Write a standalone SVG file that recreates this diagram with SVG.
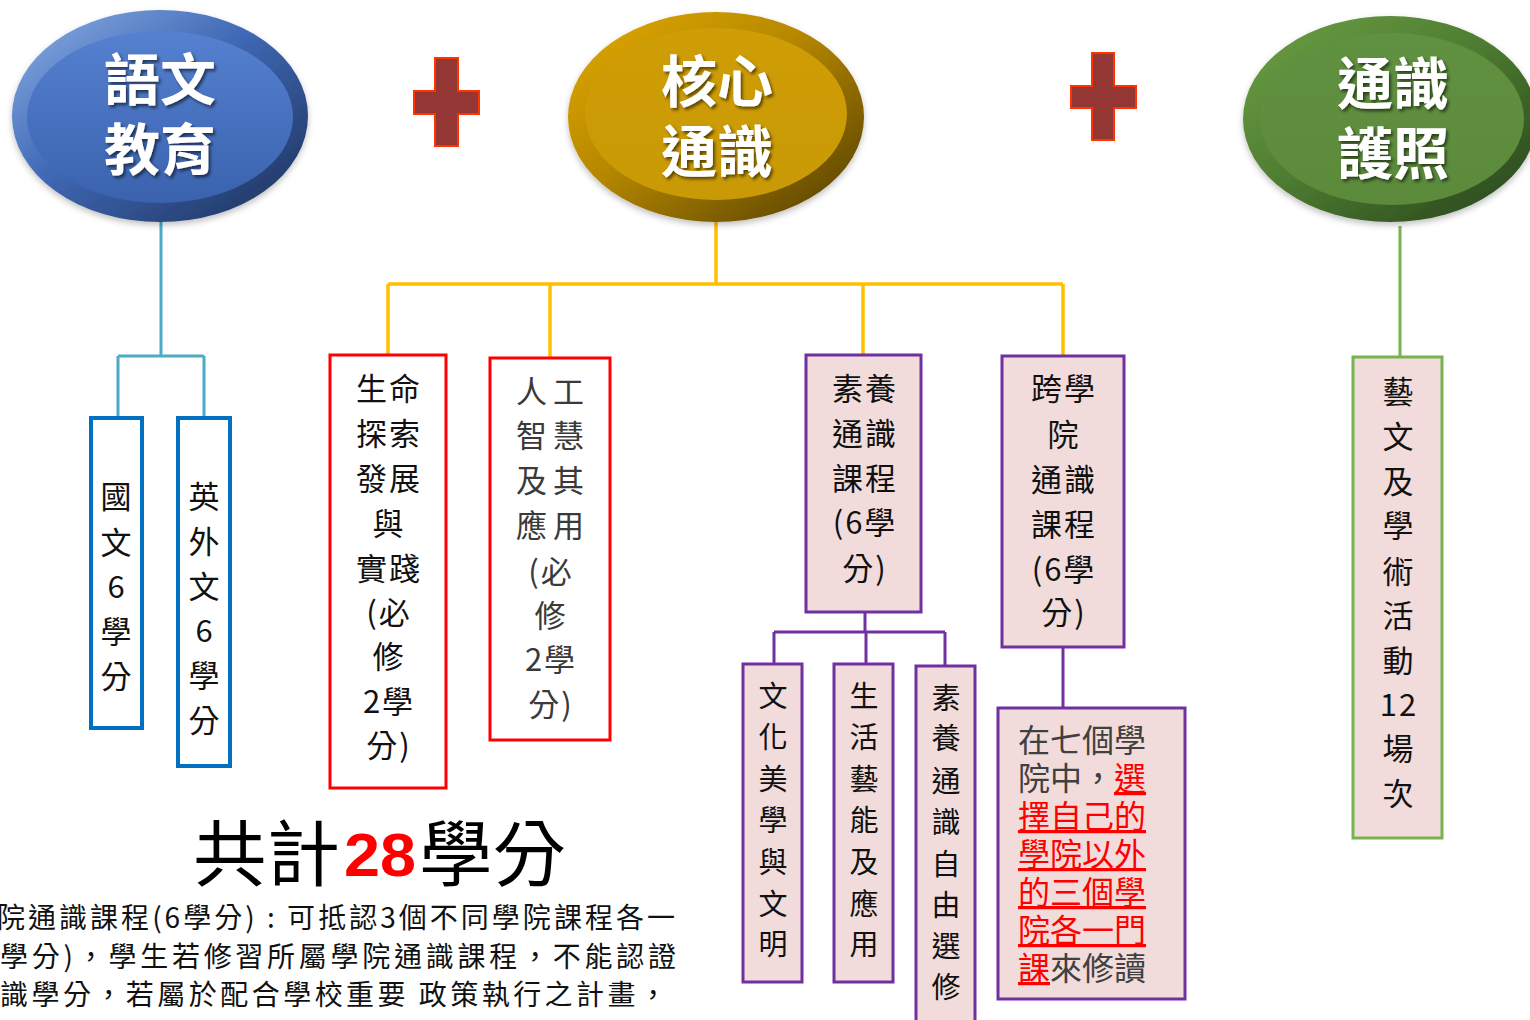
<svg xmlns="http://www.w3.org/2000/svg" width="1530" height="1020" viewBox="0 0 1530 1020">
<defs>
<linearGradient id="gBlue" x1="0" y1="0" x2="1" y2="1">
<stop offset="0" stop-color="#8DB0E6"/><stop offset="0.45" stop-color="#3F68B5"/><stop offset="1" stop-color="#1B2F57"/>
</linearGradient>
<linearGradient id="gBlueIn" x1="0" y1="0" x2="0" y2="1">
<stop offset="0" stop-color="#5581D0"/><stop offset="1" stop-color="#3A62AE"/>
</linearGradient>
<linearGradient id="gGold" x1="0" y1="0" x2="1" y2="1">
<stop offset="0" stop-color="#E2AA00"/><stop offset="0.45" stop-color="#B58700"/><stop offset="1" stop-color="#4F3B06"/>
</linearGradient>
<linearGradient id="gGoldIn" x1="0" y1="0" x2="0" y2="1">
<stop offset="0" stop-color="#CF9D05"/><stop offset="1" stop-color="#C99A06"/>
</linearGradient>
<linearGradient id="gGreen" x1="0" y1="0" x2="1" y2="1">
<stop offset="0" stop-color="#6EA046"/><stop offset="0.45" stop-color="#4F7E31"/><stop offset="1" stop-color="#25401A"/>
</linearGradient>
<linearGradient id="gGreenIn" x1="0" y1="0" x2="0" y2="1">
<stop offset="0" stop-color="#609140"/><stop offset="1" stop-color="#5B8A3B"/>
</linearGradient>
<filter id="sh" x="-20%" y="-20%" width="140%" height="140%">
<feDropShadow dx="2" dy="2.5" stdDeviation="1.5" flood-color="#000" flood-opacity="0.55"/>
</filter>
<filter id="esh" x="-10%" y="-10%" width="120%" height="125%">
<feDropShadow dx="0" dy="3" stdDeviation="3" flood-color="#000" flood-opacity="0.25"/>
</filter>
</defs>
<style>
.et{font-family:"Noto Sans CJK TC","Noto Sans CJK SC",sans-serif;font-size:56px;font-weight:bold;fill:#fff;text-anchor:middle}
.bt{font-family:"Noto Sans CJK TC","Noto Sans CJK SC",sans-serif;font-size:31px;fill:#111;text-anchor:middle;letter-spacing:2px}
.st{font-family:"Noto Sans CJK TC","Noto Sans CJK SC",sans-serif;font-size:29px;fill:#111;text-anchor:middle}
.gray{fill:#3a3a3a}
.pt{font-family:"Noto Sans CJK TC","Noto Sans CJK SC",sans-serif;font-size:32px;fill:#404040}
.red{fill:#FF0000}
.u{text-decoration:underline}
.para{font-family:"Noto Sans CJK TC","Noto Sans CJK SC",sans-serif;font-size:28px;fill:#111}
.plus{fill:#943634;stroke:#FF3300;stroke-width:2}
.bluebox{fill:#fff;stroke:#0070C0;stroke-width:4}
.redbox{fill:#fff;stroke:#FF0000;stroke-width:3}
.purbox{fill:#F2DCDB;stroke:#7030A0;stroke-width:3}
.grnbox{fill:#F2DCDB;stroke:#77B34E;stroke-width:3}
.cb{stroke:#4BACC6;stroke-width:3;fill:none}
.cy{stroke:#FFC000;stroke-width:3.5;fill:none}
.cp{stroke:#7030A0;stroke-width:3;fill:none}
.cg{stroke:#77B34E;stroke-width:3;fill:none}
</style>
<rect width="1530" height="1020" fill="#fff"/>

<g id="connectors">
<path class="cb" d="M161 222 V356 M118 356 H204 M118 356 V418 M204 356 V418"/>
<path class="cy" d="M716 222 V284 M388 284 H1063 M388 284 V355 M550 284 V358 M863 284 V355 M1063 284 V356"/>
<path class="cp" d="M865 612 V632 M774 632 H945 M774 632 V664 M866 632 V664 M945 632 V666 M1063 647 V708"/>
<path class="cg" d="M1400 226 V357"/>
</g>

<g id="node-yuwen">
<ellipse cx="160" cy="116" rx="148" ry="106" fill="url(#gBlue)" filter="url(#esh)"/>
<ellipse cx="160" cy="117" rx="133" ry="86" fill="url(#gBlueIn)"/>
<text class="et" x="160" y="100" filter="url(#sh)">語文</text>
<text class="et" x="160" y="170" filter="url(#sh)">教育</text>
</g>

<g id="plus1"><path class="plus" d="M435 58 H458 V91 H479 V114 H458 V146 H435 V114 H414 V91 H435 Z"/></g>

<g id="node-hexin">
<ellipse cx="716" cy="117" rx="148" ry="105" fill="url(#gGold)" filter="url(#esh)"/>
<ellipse cx="716" cy="114" rx="131" ry="86" fill="url(#gGoldIn)"/>
<text class="et" x="717" y="102" filter="url(#sh)">核心</text>
<text class="et" x="717" y="172" filter="url(#sh)">通識</text>
</g>

<g id="plus2"><path class="plus" d="M1092 53 H1114 V86 H1136 V108 H1114 V140 H1092 V108 H1071 V86 H1092 Z"/></g>

<g id="node-huzhao">
<ellipse cx="1390" cy="119" rx="147" ry="103" fill="url(#gGreen)" filter="url(#esh)"/>
<ellipse cx="1392" cy="119" rx="132" ry="86" fill="url(#gGreenIn)"/>
<text class="et" x="1393" y="104" filter="url(#sh)">通識</text>
<text class="et" x="1393" y="174" filter="url(#sh)">護照</text>
</g>

<g id="box-guowen">
<rect class="bluebox" x="91" y="418" width="51" height="310"/>
<text class="bt" x="117" y="508">國</text>
<text class="bt" x="117" y="554">文</text>
<text class="bt" x="117" y="598">6</text>
<text class="bt" x="117" y="643">學</text>
<text class="bt" x="117" y="688">分</text>
</g>

<g id="box-yingwai">
<rect class="bluebox" x="178" y="418" width="52" height="348"/>
<text class="bt" x="205" y="508">英</text>
<text class="bt" x="205" y="553">外</text>
<text class="bt" x="205" y="598">文</text>
<text class="bt" x="205" y="642">6</text>
<text class="bt" x="205" y="687">學</text>
<text class="bt" x="205" y="732">分</text>
</g>

<g id="box-shengming">
<rect class="redbox" x="330" y="355" width="116" height="433"/>
<text class="bt" x="389" y="400">生命</text>
<text class="bt" x="389" y="445">探索</text>
<text class="bt" x="389" y="490">發展</text>
<text class="bt" x="389" y="535">與</text>
<text class="bt" x="389" y="580">實踐</text>
<text class="bt" x="389" y="624">(必</text>
<text class="bt" x="389" y="668">修</text>
<text class="bt" x="389" y="713">2學</text>
<text class="bt" x="389" y="757">分)</text>
</g>

<g id="box-rengong">
<rect class="redbox" x="490" y="358" width="120" height="382"/>
<text class="bt gray" x="553" y="403" style="letter-spacing:6px">人工</text>
<text class="bt gray" x="553" y="447" style="letter-spacing:6px">智慧</text>
<text class="bt gray" x="553" y="492" style="letter-spacing:6px">及其</text>
<text class="bt gray" x="553" y="537" style="letter-spacing:6px">應用</text>
<text class="bt gray" x="551" y="583">(必</text>
<text class="bt gray" x="551" y="627">修</text>
<text class="bt gray" x="551" y="671">2學</text>
<text class="bt gray" x="551" y="716">分)</text>
</g>

<g id="box-suyang">
<rect class="purbox" x="806" y="355" width="115" height="257"/>
<text class="bt" x="865" y="400">素養</text>
<text class="bt" x="865" y="445">通識</text>
<text class="bt" x="865" y="490">課程</text>
<text class="bt" x="865" y="534">(6學</text>
<text class="bt" x="865" y="580">分)</text>
</g>

<g id="box-kuaxueyuan">
<rect class="purbox" x="1002" y="356" width="122" height="291"/>
<text class="bt" x="1064" y="400">跨學</text>
<text class="bt" x="1064" y="446">院</text>
<text class="bt" x="1064" y="491">通識</text>
<text class="bt" x="1064" y="536">課程</text>
<text class="bt" x="1064" y="581">(6學</text>
<text class="bt" x="1064" y="624">分)</text>
</g>

<g id="box-wenhua">
<rect class="purbox" x="743" y="664" width="59" height="318"/>
<text class="st" x="773" y="707">文</text>
<text class="st" x="773" y="748">化</text>
<text class="st" x="773" y="790">美</text>
<text class="st" x="773" y="831">學</text>
<text class="st" x="773" y="873">與</text>
<text class="st" x="773" y="915">文</text>
<text class="st" x="773" y="955">明</text>
</g>

<g id="box-shenghuo">
<rect class="purbox" x="834" y="664" width="59" height="318"/>
<text class="st" x="864" y="707">生</text>
<text class="st" x="864" y="748">活</text>
<text class="st" x="864" y="790">藝</text>
<text class="st" x="864" y="831">能</text>
<text class="st" x="864" y="873">及</text>
<text class="st" x="864" y="915">應</text>
<text class="st" x="864" y="955">用</text>
</g>

<g id="box-ziyou">
<rect class="purbox" x="916" y="666" width="59" height="370"/>
<text class="st" x="946" y="709">素</text>
<text class="st" x="946" y="749">養</text>
<text class="st" x="946" y="792">通</text>
<text class="st" x="946" y="833">識</text>
<text class="st" x="946" y="875">自</text>
<text class="st" x="946" y="916">由</text>
<text class="st" x="946" y="957">選</text>
<text class="st" x="946" y="998">修</text>
</g>

<g id="box-qige">
<rect class="purbox" x="998" y="708" width="187" height="291"/>
<text class="pt" x="1018" y="752">在七個學</text>
<text class="pt" x="1018" y="790">院中，<tspan class="red u">選</tspan></text>
<text class="pt red u" x="1018" y="828">擇自己的</text>
<text class="pt red u" x="1018" y="866">學院以外</text>
<text class="pt red u" x="1018" y="904">的三個學</text>
<text class="pt red u" x="1018" y="942">院各一門</text>
<text class="pt" x="1018" y="980"><tspan class="red u">課</tspan>來修讀</text>
</g>

<g id="box-yiwen">
<rect class="grnbox" x="1353" y="357" width="89" height="481"/>
<text class="bt" x="1399" y="403">藝</text>
<text class="bt" x="1399" y="448">文</text>
<text class="bt" x="1399" y="493">及</text>
<text class="bt" x="1399" y="537">學</text>
<text class="bt" x="1399" y="583">術</text>
<text class="bt" x="1399" y="627">活</text>
<text class="bt" x="1399" y="672">動</text>
<text class="bt" x="1399" y="716">12</text>
<text class="bt" x="1399" y="760">場</text>
<text class="bt" x="1399" y="805">次</text>
</g>

<g id="total">
<text x="193" y="880" font-family="Noto Sans CJK TC, Noto Sans CJK SC, sans-serif" font-size="72" fill="#000" textLength="147" lengthAdjust="spacingAndGlyphs">共計</text>
<text x="344" y="876" font-family="Liberation Sans, Arial, sans-serif" font-size="62" font-weight="bold" fill="#FF0000" textLength="72" lengthAdjust="spacingAndGlyphs">28</text>
<text x="419" y="880" font-family="Noto Sans CJK TC, Noto Sans CJK SC, sans-serif" font-size="72" fill="#000" textLength="147" lengthAdjust="spacingAndGlyphs">學分</text>
</g>

<g id="note">
<text class="para" x="-3" y="928" textLength="678" lengthAdjust="spacing">院通識課程(6學分) : 可抵認3個不同學院課程各一</text>
<text class="para" x="0" y="967" textLength="676" lengthAdjust="spacing">學分)，學生若修習所屬學院通識課程，不能認證</text>
<text class="para" x="0" y="1005" textLength="667" lengthAdjust="spacing">識學分，若屬於配合學校重要 政策執行之計畫，</text>
</g>
</svg>
